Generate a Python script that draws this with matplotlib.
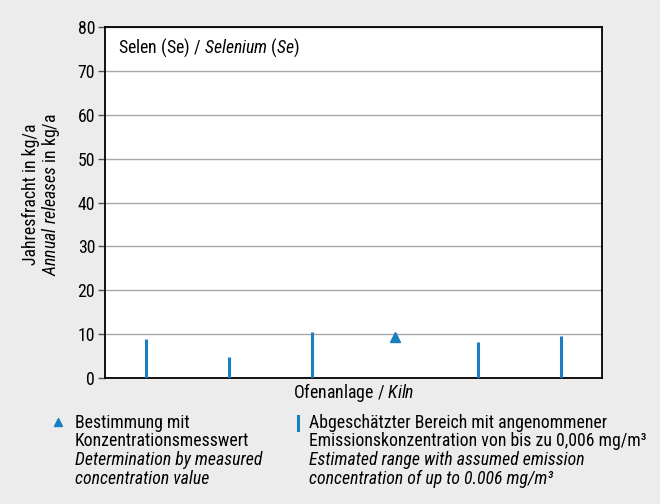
import matplotlib
matplotlib.use("Agg")
import matplotlib.pyplot as plt
from matplotlib.lines import Line2D

plt.rcParams['font.family'] = ['Roboto Condensed', 'DejaVu Sans']
plt.rcParams['mathtext.fontset'] = 'custom'
plt.rcParams['mathtext.rm'] = 'Roboto Condensed'
plt.rcParams['mathtext.it'] = 'Roboto Condensed:italic'

# Ofenanlagen (kilns) and estimated annual releases (kg/a)
kilns = [0, 1, 2, 3, 4, 5]
range_kilns = [0, 1, 2, 4, 5]
range_max = [8.8, 4.9, 10.4, 8.3, 9.6]
measured_kilns = [3]
measured_values = [9.3]
yticks = [0, 10, 20, 30, 40, 50, 60, 70, 80]

blue = '#1a7fc1'
bg = '#ebeceb'
fs = 12.8

fig = plt.figure(figsize=(6.6, 5.04), dpi=100, facecolor=bg)
ax = fig.add_axes([0.159, 0.25, 0.753, 0.696])
ax.set_facecolor('white')

ax.vlines(range_kilns, 0, range_max, colors=blue, linewidth=2.2, zorder=3)
ax.plot(measured_kilns, measured_values, linestyle='none', marker='^',
        color=blue, markersize=7, zorder=4)

ax.set_xlim(-0.5, 5.5)
ax.set_ylim(0, 80)
ax.set_yticks(yticks)
ax.set_xticks([])
ax.yaxis.grid(True, color='#a8a8a8', linewidth=1.0)
ax.set_axisbelow(True)
ax.tick_params(axis='y', labelsize=fs, length=5, width=1, color='#555555', pad=2)
for s in ax.spines.values():
    s.set_linewidth(1.3)
    s.set_color('black')

ax.text(0.026, 0.975, r'Selen (Se) / $\mathit{Selenium\ (Se)}$', transform=ax.transAxes,
        fontsize=fs, va='top', ha='left')
ax.set_xlabel(r'Ofenanlage / $\mathit{Kiln}$', fontsize=fs, labelpad=2)

# y-Achsenbeschriftung zweizeilig
fig.text(0.047, 0.614, 'Jahresfracht in kg/a', rotation=90, fontsize=fs,
         ha='center', va='center')
fig.text(0.077, 0.614, r'$\mathit{Annual\ releases}$ in kg/a', rotation=90, fontsize=fs,
         ha='center', va='center')

# Legende
line_y = [423, 441.5, 460, 478.5]
styles = ['normal', 'normal', 'italic', 'italic']
fig.add_artist(Line2D([0.088], [1 - 422 / 504], transform=fig.transFigure,
                      marker='^', color=blue, markersize=6, linestyle='none'))
left_lines = ['Bestimmung mit', 'Konzentrationsmesswert',
              'Determination by measured', 'concentration value']
for y, t, st in zip(line_y, left_lines, styles):
    fig.text(0.113, 1 - y / 504, t, fontsize=fs, fontstyle=st, va='center', ha='left')

fig.add_artist(Line2D([0.4515, 0.4515], [1 - 430 / 504, 1 - 416 / 504],
                      transform=fig.transFigure, color=blue, linewidth=2.2))
right_lines = ['Abgeschätzter Bereich mit angenommener',
               'Emissionskonzentration von bis zu 0,006 mg/m³',
               'Estimated range with assumed emission',
               'concentration of up to 0.006 mg/m³']
for y, t, st in zip(line_y, right_lines, styles):
    fig.text(0.468, 1 - y / 504, t, fontsize=fs, fontstyle=st, va='center', ha='left')

fig.savefig('out.png', dpi=100, facecolor=bg)
